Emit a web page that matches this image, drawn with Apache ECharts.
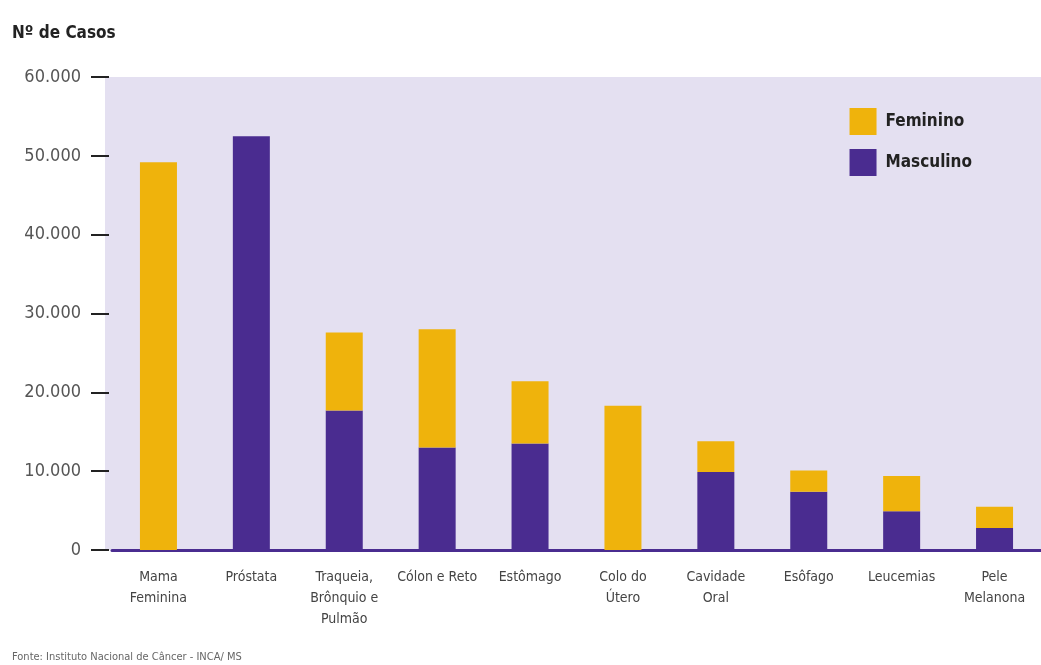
<!DOCTYPE html>
<html>
<head>
<meta charset="utf-8">
<script src="https://cdn.jsdelivr.net/npm/echarts@6/dist/echarts.min.js"></script>
<style>
html,body{margin:0;padding:0;background:#fff;}
#chart{width:1041px;height:665px;}
</style>
</head>
<body>
<div id="chart"></div>
<script>
const categories = ['Mama\nFeminina', 'Próstata', 'Traqueia,\nBrônquio e\nPulmão', 'Cólon e Reto', 'Estômago', 'Colo do\nÚtero', 'Cavidade\nOral', 'Esôfago', 'Leucemias', 'Pele\nMelanona'];
const masculino = [0, 52500, 17700, 13000, 13500, 0, 9900, 7400, 4900, 2800];
const feminino = [49200, 0, 9900, 15000, 7900, 18300, 3900, 2700, 4500, 2700];
const yTicks = [0, 10000, 20000, 30000, 40000, 50000, 60000];

const font = '"DejaVu Sans Condensed", "Liberation Sans Narrow", "Roboto", sans-serif';
const yellow = '#EFB30C';
const purple = '#4A2C90';

const chart = echarts.init(document.getElementById('chart'));
chart.setOption({
  animation: false,
  backgroundColor: '#ffffff',
  textStyle: { fontFamily: font },
  title: [
    { text: 'Nº de Casos', left: 12, top: 25, padding: 0, textStyle: { fontFamily: font, fontSize: 17, fontWeight: 'bold', color: '#222' } },
    { text: 'Fonte: Instituto Nacional de Câncer - INCA/ MS', left: 12, top: 652, padding: 0, textStyle: { fontFamily: font, fontSize: 11, fontWeight: 'normal', color: '#666' } }
  ],
  graphic: [
    { type: 'rect', z: -100, shape: { x: 105, y: 77, width: 936, height: 473 }, style: { fill: '#E4E0F1' }, silent: true }
  ],
  legend: {
    right: 64, top: 103, orient: 'vertical', itemWidth: 27, itemHeight: 27, itemGap: 14,
    icon: 'rect',
    data: ['Feminino', 'Masculino'],
    textStyle: { fontFamily: font, fontSize: 17, fontWeight: 'bold', color: '#222', padding: [0, 0, 0, 4] }
  },
  grid: { left: 112, right: 0, top: 77, bottom: 115 },
  xAxis: {
    type: 'category', data: categories,
    axisLine: { lineStyle: { color: purple, width: 3 } },
    axisTick: { show: false },
    axisLabel: { interval: 0, fontFamily: font, fontSize: 14, color: '#444', lineHeight: 21, margin: 17 }
  },
  yAxis: {
    type: 'value', min: 0, max: 60000, interval: 10000, offset: 3,
    axisLine: { show: false },
    axisTick: { show: true, length: 18, lineStyle: { color: '#222', width: 2 } },
    splitLine: { show: false },
    axisLabel: {
      margin: 28, fontFamily: font, fontSize: 18, color: '#555',
      formatter: v => yTicks.includes(v) ? (v === 0 ? '0' : (v / 1000).toFixed(3)) : ''
    }
  },
  series: [
    { name: 'Masculino', type: 'bar', stack: 'total', data: masculino, barWidth: 37, itemStyle: { color: purple } },
    { name: 'Feminino', type: 'bar', stack: 'total', data: feminino, barWidth: 37, itemStyle: { color: yellow } }
  ]
});
</script>
</body>
</html>
